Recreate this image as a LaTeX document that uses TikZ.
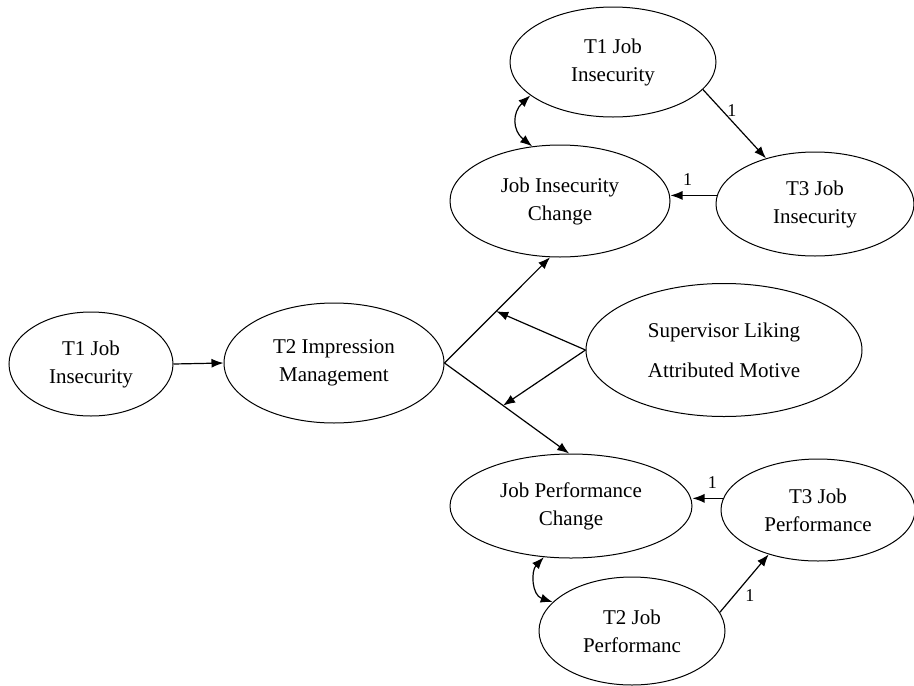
\documentclass[tikz,border=0pt]{standalone}
\usepackage{fontspec}
\setmainfont{Liberation Serif}
\usetikzlibrary{shapes.geometric,arrows.meta}
\begin{document}
\begin{tikzpicture}[x=1pt,y=-1pt,
  var/.style={ellipse,draw,line width=1pt,inner sep=0pt,align=center,font=\fontsize{21}{28}\selectfont},
  arr/.style={line width=1.2pt,-{Latex[length=12pt,width=9pt]}},
  darr/.style={line width=1.2pt,{Latex[length=12pt,width=9pt]}-{Latex[length=12pt,width=9pt]}},
  lbl/.style={font=\fontsize{18}{20}\selectfont,inner sep=1pt}]
\path[use as bounding box] (0,0) rectangle (914,686);
% nodes
\node[var,minimum width=206pt,minimum height=110pt] (T1JI) at (613,62) {T1 Job\\Insecurity};
\node[var,minimum width=220pt,minimum height=112pt] (JIC) at (560,201) {Job Insecurity\\Change};
\node[var,minimum width=198pt,minimum height=104pt] (T3JI) at (815,204) {T3 Job\\Insecurity};
\node[var,minimum width=276pt,minimum height=133pt] (SL) at (724,350) {Supervisor Liking\\[12pt]Attributed Motive};
\node[var,minimum width=164pt,minimum height=104pt] (L) at (91,364) {T1 Job\\Insecurity};
\node[var,minimum width=220pt,minimum height=120pt] (IM) at (334,363) {T2 Impression\\Management};
\node[var,minimum width=242pt,minimum height=104pt] (JPC) at (571,506) {Job Performance\\Change};
\node[var,minimum width=194pt,minimum height=102pt] (T3JP) at (818,510) {T3 Job\\Performance};
\node[var,minimum width=186pt,minimum height=108pt] (T2JP) at (632,631) {T2 Job\\Performanc};
% connectors
\draw[arr] (L.east) -- (IM.west);
\draw[arr] (IM.east) -- coordinate[pos=0.49] (m1) (JIC.-100);
\draw[arr] (IM.east) -- coordinate[pos=0.47] (m2) (JPC.92);
\draw[arr] (SL.west) -- (m1);
\draw[arr] (SL.west) -- (m2);
\draw[arr] (T1JI.-17) -- node[lbl,pos=0.3,right=4pt] {1} (T3JI.137);
\draw[arr] (T3JI.175) -- node[lbl,pos=0.63,above=8pt] {1} (T3JI.175 -| JIC.east);
\draw[arr] (T3JP.173) -- node[lbl,pos=0.35,above=8pt] {1} (T3JP.173 -| JPC.east);
\draw[arr] (T2JP.12) -- node[lbl,pos=0.45,below right=2pt] {1} (T3JP.-138);
\draw[darr] (JIC.117) .. controls +(-20,-16) and +(-18,17) .. (T1JI.-158);
\draw[darr] (JPC.-118) .. controls +(-13,14) and +(-21,-7) .. (T2JP.160);
\end{tikzpicture}
\end{document}
